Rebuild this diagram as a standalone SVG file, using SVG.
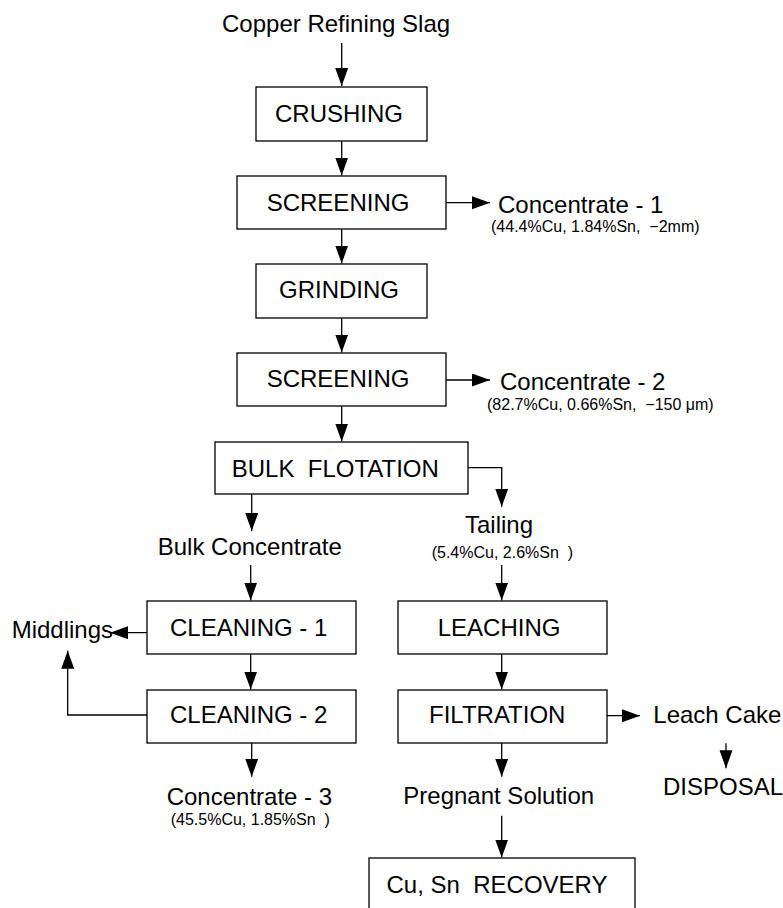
<svg xmlns="http://www.w3.org/2000/svg" width="783" height="908" viewBox="0 0 783 908">
<style>
.box{fill:#fff;stroke:#000;stroke-width:1.3}
.t{font-family:"Liberation Sans",Arial,sans-serif;font-size:24px;fill:#000;white-space:pre}
.s{font-family:"Liberation Sans",Arial,sans-serif;font-size:16px;fill:#000;white-space:pre}
.c{fill:none;stroke:#000;stroke-width:1.3}
</style>
<defs>
<marker id="ah" markerUnits="userSpaceOnUse" markerWidth="20" markerHeight="14" refX="18" refY="6.5" orient="auto">
<path d="M0,0 L18,6.5 L0,13 z" fill="#000"/>
</marker>
</defs>
<rect width="783" height="908" fill="#fff"/>
<g id="connectors">
<path class="c" d="M341.7,43 V86" marker-end="url(#ah)"/>
<path class="c" d="M341.7,141 V175.5" marker-end="url(#ah)"/>
<path class="c" d="M446,202.7 H490" marker-end="url(#ah)"/>
<path class="c" d="M341.7,229 V263.5" marker-end="url(#ah)"/>
<path class="c" d="M341.7,318 V352.5" marker-end="url(#ah)"/>
<path class="c" d="M446,380 H490" marker-end="url(#ah)"/>
<path class="c" d="M341.7,406 V441.5" marker-end="url(#ah)"/>
<path class="c" d="M251.7,494 V531" marker-end="url(#ah)"/>
<path class="c" d="M468,467.7 H501.7 V506.7" marker-end="url(#ah)"/>
<path class="c" d="M250.7,565 V600.5" marker-end="url(#ah)"/>
<path class="c" d="M501.7,565 V600.5" marker-end="url(#ah)"/>
<path class="c" d="M147,632.7 H110" marker-end="url(#ah)"/>
<path class="c" d="M250.7,654 V689.5" marker-end="url(#ah)"/>
<path class="c" d="M147,715 H67.7 V650.7" marker-end="url(#ah)"/>
<path class="c" d="M251.7,743 V776.7" marker-end="url(#ah)"/>
<path class="c" d="M501.7,654 V689.5" marker-end="url(#ah)"/>
<path class="c" d="M607,715.7 H640" marker-end="url(#ah)"/>
<path class="c" d="M726,743.3 V768.3" marker-end="url(#ah)"/>
<path class="c" d="M501.7,743 V776.7" marker-end="url(#ah)"/>
<path class="c" d="M501.7,815.7 V857.5" marker-end="url(#ah)"/>
</g>
<g id="feed"><text class="t" x="222" y="32">Copper Refining Slag</text></g>
<g id="crushing"><rect class="box" x="256" y="87" width="171" height="54"/><text class="t" x="275" y="121.5">CRUSHING</text></g>
<g id="screening1"><rect class="box" x="237" y="176" width="209" height="53"/><text class="t" x="266.7" y="210.7">SCREENING</text></g>
<g id="concentrate1"><text class="t" x="498" y="212.5">Concentrate - 1</text><text class="s" x="491" y="232" xml:space="preserve">(44.4%Cu, 1.84%Sn,  −2mm)</text></g>
<g id="grinding"><rect class="box" x="256" y="264" width="171" height="54"/><text class="t" x="279" y="298.3">GRINDING</text></g>
<g id="screening2"><rect class="box" x="237" y="353" width="209" height="53"/><text class="t" x="266.7" y="387">SCREENING</text></g>
<g id="concentrate2"><text class="t" x="500" y="390">Concentrate - 2</text><text class="s" x="487" y="410" xml:space="preserve">(82.7%Cu, 0.66%Sn,  −150 μm)</text></g>
<g id="bulkflotation"><rect class="box" x="215" y="442" width="253" height="52"/><text class="t" x="231.7" y="476.7" xml:space="preserve">BULK  FLOTATION</text></g>
<g id="bulkconcentrate"><text class="t" x="157.7" y="555">Bulk Concentrate</text></g>
<g id="tailing"><text class="t" x="465" y="533">Tailing</text><text class="s" x="431.7" y="558" xml:space="preserve">(5.4%Cu, 2.6%Sn  )</text></g>
<g id="cleaning1"><rect class="box" x="147" y="601" width="209" height="53"/><text class="t" x="170" y="636">CLEANING - 1</text></g>
<g id="middlings"><text class="t" x="11.7" y="638">Middlings</text></g>
<g id="leaching"><rect class="box" x="398" y="601" width="209" height="53"/><text class="t" x="437.7" y="636">LEACHING</text></g>
<g id="cleaning2"><rect class="box" x="147" y="690" width="209" height="53"/><text class="t" x="170" y="723.3">CLEANING - 2</text></g>
<g id="filtration"><rect class="box" x="398" y="690" width="209" height="53"/><text class="t" x="429" y="723.3">FILTRATION</text></g>
<g id="leachcake"><text class="t" x="653.3" y="723.3">Leach Cake</text></g>
<g id="disposal"><text class="t" x="663" y="795">DISPOSAL</text></g>
<g id="concentrate3"><text class="t" x="166.7" y="805">Concentrate - 3</text><text class="s" x="170.7" y="825" xml:space="preserve">(45.5%Cu, 1.85%Sn  )</text></g>
<g id="pregnant"><text class="t" x="403.3" y="804">Pregnant Solution</text></g>
<g id="recovery"><rect class="box" x="369" y="858" width="266" height="70"/><text class="t" x="386.5" y="893" xml:space="preserve">Cu, Sn  RECOVERY</text></g>
</svg>
